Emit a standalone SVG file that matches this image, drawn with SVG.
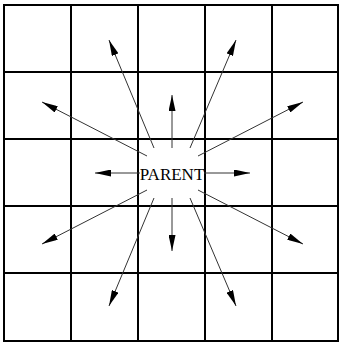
<svg xmlns="http://www.w3.org/2000/svg" width="340" height="347" viewBox="0 0 340 347">
  <style>
    .grid { stroke: #000; stroke-width: 2; fill: none; }
    .arr { stroke: #333; stroke-width: 1; fill: none; marker-end: url(#ah); }
    .lbl { font-family: "Liberation Serif", "Times New Roman", serif; font-size: 17px; fill: #000; }
  </style>
  <defs>
    <marker id="ah" viewBox="0 0 16 7" refX="16" refY="3.5" markerWidth="16" markerHeight="7" markerUnits="userSpaceOnUse" orient="auto">
      <path d="M0,0 L16,3.5 L0,7 z" fill="#000"/>
    </marker>
  </defs>
  <rect width="340" height="347" fill="#fff"/>
  <g id="grid" class="grid">
    <rect x="4" y="5" width="334" height="336"/>
    <line x1="71" y1="5" x2="71" y2="341"/>
    <line x1="138" y1="5" x2="138" y2="341"/>
    <line x1="205" y1="5" x2="205" y2="341"/>
    <line x1="272" y1="5" x2="272" y2="341"/>
    <line x1="4" y1="72" x2="338" y2="72"/>
    <line x1="4" y1="139" x2="338" y2="139"/>
    <line x1="4" y1="206" x2="338" y2="206"/>
    <line x1="4" y1="273" x2="338" y2="273"/>
  </g>
  <g id="connectors">
    <line class="arr" x1="172" y1="148" x2="172" y2="95"/>
    <line class="arr" x1="172" y1="198" x2="172" y2="251"/>
    <line class="arr" x1="140" y1="173" x2="95" y2="173"/>
    <line class="arr" x1="204" y1="173" x2="250" y2="173"/>
    <line class="arr" x1="154" y1="148" x2="109" y2="40"/>
    <line class="arr" x1="190" y1="148" x2="236" y2="40"/>
    <line class="arr" x1="147" y1="156" x2="42" y2="102"/>
    <line class="arr" x1="198" y1="156" x2="303" y2="102"/>
    <line class="arr" x1="147" y1="190" x2="42" y2="244"/>
    <line class="arr" x1="198" y1="190" x2="303" y2="244"/>
    <line class="arr" x1="154" y1="198" x2="109" y2="306"/>
    <line class="arr" x1="190" y1="198" x2="236" y2="306"/>
  </g>
  <g id="parent">
    <text class="lbl" x="172" y="180" text-anchor="middle">PARENT</text>
  </g>
</svg>
